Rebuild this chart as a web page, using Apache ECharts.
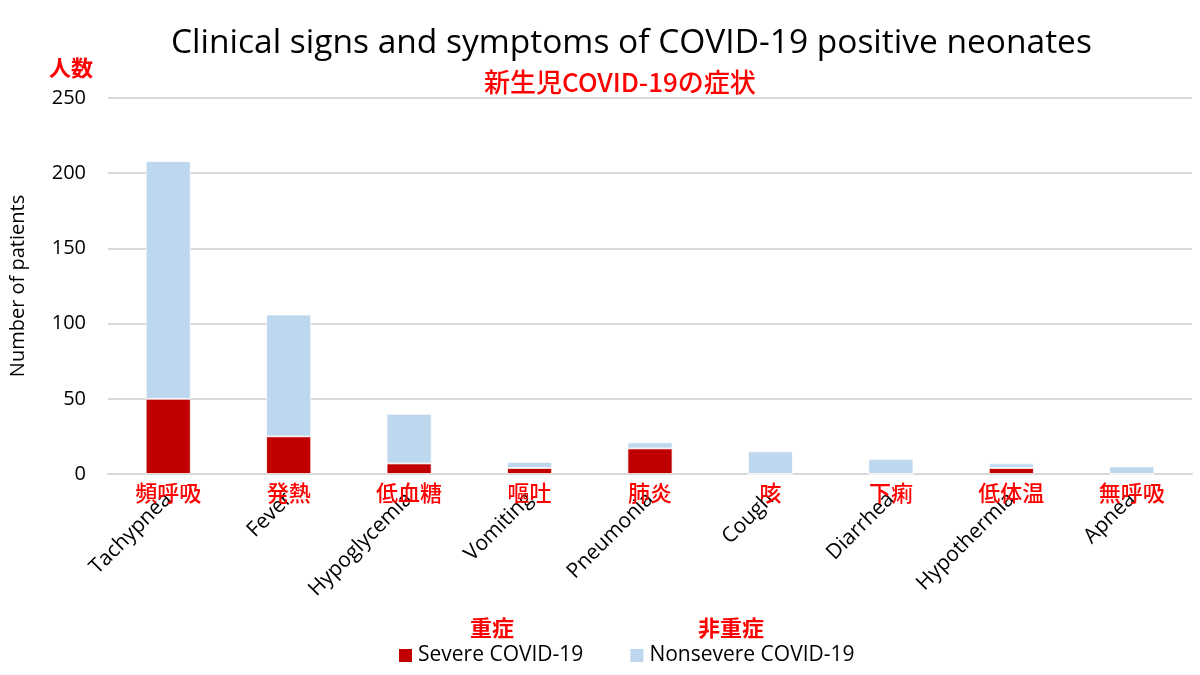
<!DOCTYPE html>
<html>
<head>
<meta charset="utf-8" />
<script src="https://cdn.jsdelivr.net/npm/echarts@6/dist/echarts.min.js"></script>
<title>COVID-19 neonates</title>
<style>
  html, body { margin: 0; padding: 0; background: #fff; }
</style>
</head>
<body>
<div id="main" style="width:1200px;height:675px;"></div>
<script type="text/javascript">
// categories (English / Japanese)
var symptomsEn = ['Tachypnea', 'Fever', 'Hypoglycemia', 'Vomiting', 'Pneumonia', 'Cough', 'Diarrhea', 'Hypothermia', 'Apnea'];
var symptomsJa = ['頻呼吸', '発熱', '低血糖', '嘔吐', '肺炎', '咳', '下痢', '低体温', '無呼吸'];
// values
var severe    = [50, 25, 7, 4, 17, 0, 0, 4, 0];
var nonsevere = [158, 81, 33, 4, 4, 15, 10, 3, 5];
var yTicks = { min: 0, max: 250, interval: 50 };

var latin = 'Open Sans, Liberation Sans, sans-serif';
var cjk = 'Noto Sans CJK JP, sans-serif';
var red = '#ff0000';

var myChart = echarts.init(document.getElementById('main'));

var option = {
  animation: false,
  backgroundColor: '#fff',
  title: [
    {
      text: 'Clinical signs and symptoms of COVID-19 positive neonates',
      left: 166, top: 21,
      textStyle: { fontFamily: latin, fontWeight: 'normal', fontSize: 33.5, color: '#000' }
    },
    {
      text: '新生児COVID-19の症状',
      left: 479, top: 64,
      textStyle: { fontFamily: cjk, fontWeight: 500, fontSize: 26, color: red }
    },
    {
      text: '人数', left: 44, top: 52,
      textStyle: { fontFamily: cjk, fontWeight: 'bold', fontSize: 22, color: red }
    },
    {
      text: '重症', left: 465, top: 612,
      textStyle: { fontFamily: cjk, fontWeight: 'bold', fontSize: 22, color: red }
    },
    {
      text: '非重症', left: 693, top: 612,
      textStyle: { fontFamily: cjk, fontWeight: 'bold', fontSize: 22, color: red }
    }
  ],
  legend: {
    data: ['Severe COVID-19', 'Nonsevere COVID-19'],
    left: 392, top: 640,
    itemWidth: 15, itemHeight: 15, itemGap: 45,
    icon: 'rect',
    textStyle: { fontFamily: latin, fontSize: 21, color: '#000' }
  },
  grid: { left: 108, right: 8, top: 98, bottom: 201 },
  xAxis: [
    {
      type: 'category',
      data: symptomsEn,
      axisLine: { lineStyle: { color: '#d9d9d9', width: 2 } },
      axisTick: { show: false },
      axisLabel: {
        rotate: 45, margin: 22, interval: 0,
        fontFamily: latin, fontSize: 21, color: '#000'
      }
    },
    {
      type: 'category',
      position: 'bottom',
      data: symptomsJa,
      axisLine: { show: false },
      axisTick: { show: false },
      axisLabel: {
        margin: 8, interval: 0,
        fontFamily: cjk, fontWeight: 500, fontSize: 22, color: red
      }
    }
  ],
  yAxis: {
    type: 'value',
    min: yTicks.min, max: yTicks.max, interval: yTicks.interval,
    name: 'Number of patients',
    nameLocation: 'middle',
    nameGap: 80,
    nameTextStyle: { fontFamily: latin, fontSize: 20, color: '#000' },
    axisLine: { show: false },
    axisTick: { show: false },
    axisLabel: { fontFamily: latin, fontSize: 20, color: '#000', margin: 22 },
    splitLine: { lineStyle: { color: '#d9d9d9', width: 2 } }
  },
  series: [
    {
      name: 'Severe COVID-19',
      type: 'bar',
      stack: 'total',
      barWidth: 45,
      itemStyle: { color: '#c00000', borderColor: '#fff', borderWidth: 0.8 },
      data: severe
    },
    {
      name: 'Nonsevere COVID-19',
      type: 'bar',
      stack: 'total',
      barWidth: 45,
      itemStyle: { color: '#bdd7ee', borderColor: '#fff', borderWidth: 0.8 },
      data: nonsevere
    }
  ]
};

myChart.setOption(option);
</script>
</body>
</html>
